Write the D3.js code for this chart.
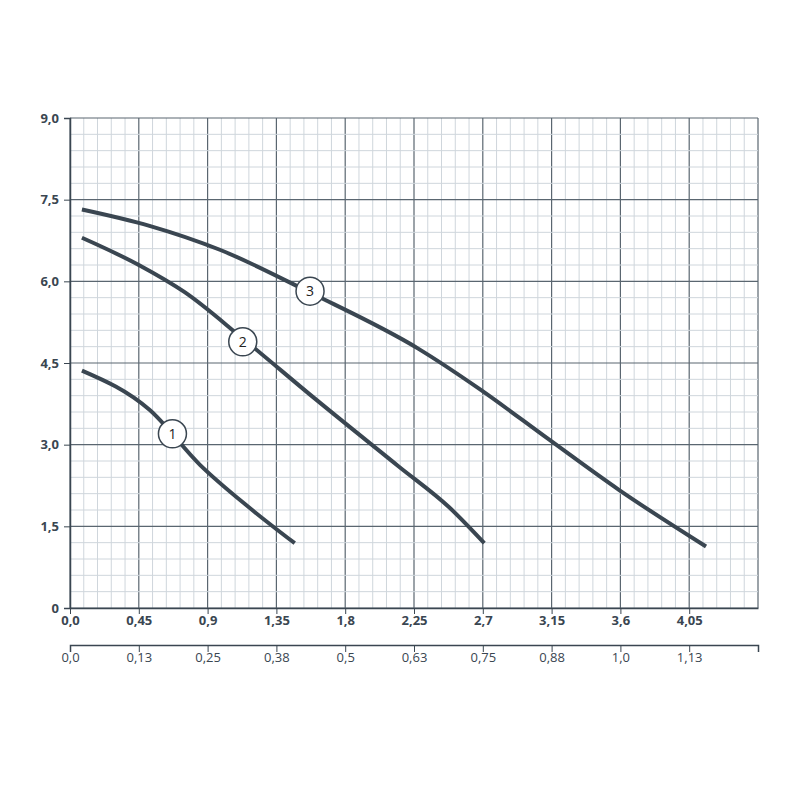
<!DOCTYPE html><html><head><meta charset="utf-8"><script src="https://cdn.jsdelivr.net/npm/d3@7"></script>
<style>body{margin:0;background:#fff}</style></head><body><svg id="c" width="800" height="800"></svg>
<script>
const xTicks=[0,0.45,0.9,1.35,1.8,2.25,2.7,3.15,3.6,4.05];
const xLabels=["0,0","0,45","0,9","1,35","1,8","2,25","2,7","3,15","3,6","4,05"];
const x2Labels=["0,0","0,13","0,25","0,38","0,5","0,63","0,75","0,88","1,0","1,13"];
const yTicks=[0,1.5,3,4.5,6,7.5,9];
const yLabels=["0","1,5","3,0","4,5","6,0","7,5","9,0"];
const curve1=[[0.078,4.36],[0.52,3.64],[0.85,2.63],[1.17,1.85],[1.47,1.19]];
const curve2=[[0.078,6.80],[0.45,6.30],[0.75,5.80],[1.13,4.95],[1.60,3.85],[2.15,2.60],[2.48,1.85],[2.71,1.19]];
const curve3=[[0.078,7.32],[0.52,7.02],[0.98,6.58],[1.58,5.78],[2.28,4.76],[2.68,4.02],[3.13,3.10],[3.59,2.17],[4.16,1.13]];
const labels=[{n:"1",p:[0.67,3.20]},{n:"2",p:[1.13,4.89]},{n:"3",p:[1.57,5.82]}];
const C="#3a4651",G="#cfd6dc";
const svg=d3.select("#c");
const x=d3.scaleLinear().domain([0,4.5]).range([70,758]);
const y=d3.scaleLinear().domain([0,9]).range([608,118]);
const g=svg.append("g");
for(let i=0;i<=50;i++){const v=i*0.09;g.append("line").attr("x1",x(v)).attr("x2",x(v)).attr("y1",y(0)).attr("y2",y(9)).attr("stroke",i%5?G:"#5a6670").attr("stroke-width",i%5?1:1.2);}
for(let i=0;i<=30;i++){const v=i*0.3;g.append("line").attr("y1",y(v)).attr("y2",y(v)).attr("x1",x(0)).attr("x2",x(4.5)).attr("stroke",i%5?G:"#5a6670").attr("stroke-width",i%5?1:1.2);}
function sty(a,bold){a.select(".domain").attr("stroke",C).attr("stroke-width",1.5);a.selectAll("line").attr("stroke",C);
 a.selectAll("text").style("fill",C).style("font-family","Open Sans").style("font-weight",bold?"bold":"normal").style("font-size","13px");}
svg.append("g").attr("transform","translate(70,0)").call(d3.axisLeft(y).tickValues(yTicks).tickFormat((d,i)=>yLabels[i]).tickSize(6)).call(a=>{sty(a,true);a.selectAll("text").attr("dx",-2);});
svg.append("g").attr("transform","translate(0,608)").call(d3.axisBottom(x).tickValues(xTicks).tickFormat((d,i)=>xLabels[i]).tickSize(6).tickSizeOuter(0)).call(a=>{sty(a,true);a.selectAll("text").attr("dy",8);});
svg.append("g").attr("transform","translate(0,645)").call(d3.axisBottom(x).tickValues(xTicks).tickFormat((d,i)=>x2Labels[i]).tickSize(7).tickSizeOuter(7)).call(a=>{sty(a,false);a.selectAll("text").attr("dy",7);});
const line=d3.line().x(d=>x(d[0])).y(d=>y(d[1])).curve(d3.curveMonotoneX);
[curve1,curve2,curve3].forEach(c=>svg.append("path").attr("d",line(c)).attr("fill","none").attr("stroke",C).attr("stroke-width",4));
labels.forEach(l=>{svg.append("circle").attr("cx",x(l.p[0])).attr("cy",y(l.p[1])).attr("r",14).attr("fill","#fff").attr("stroke",C).attr("stroke-width",1.5);
 svg.append("text").attr("x",x(l.p[0])).attr("y",y(l.p[1])+5).attr("text-anchor","middle").style("font-family","Open Sans").style("font-size","14px").style("fill","#222").text(l.n);});
</script></body></html>
